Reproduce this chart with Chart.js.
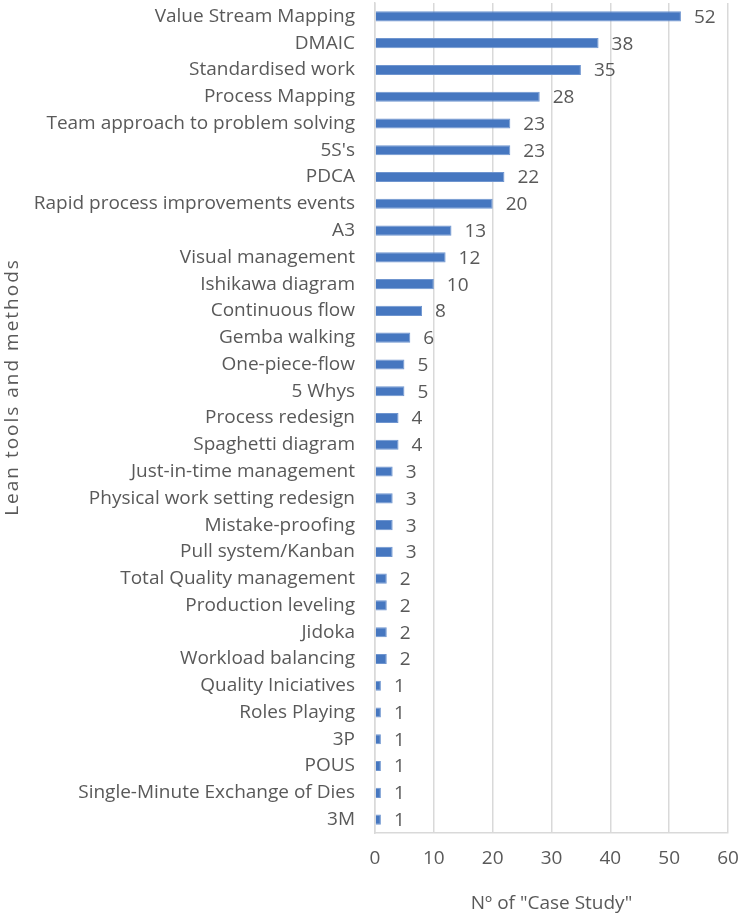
<!DOCTYPE html>
<html>
<head>
<meta charset="utf-8">
<script src="https://cdn.jsdelivr.net/npm/chart.js@4/dist/chart.umd.min.js"></script>
<style>
  html, body { margin: 0; padding: 0; background: #fff; }
  #wrap { width: 741px; height: 915px; }
</style>
</head>
<body>
<div id="wrap"><canvas id="leanChart" width="741" height="915"></canvas></div>
<script>
// Ferramentas lean e número de estudos de caso
const tools = [
  'Value Stream Mapping', 'DMAIC', 'Standardised work', 'Process Mapping',
  'Team approach to problem solving', "5S's", 'PDCA', 'Rapid process improvements events',
  'A3', 'Visual management', 'Ishikawa diagram', 'Continuous flow', 'Gemba walking',
  'One-piece-flow', '5 Whys', 'Process redesign', 'Spaghetti diagram',
  'Just-in-time management', 'Physical work setting redesign', 'Mistake-proofing',
  'Pull system/Kanban', 'Total Quality management', 'Production leveling', 'Jidoka',
  'Workload balancing', 'Quality Iniciatives', 'Roles Playing', '3P', 'POUS',
  'Single-Minute Exchange of Dies', '3M'
];
const caseStudies = [52, 38, 35, 28, 23, 23, 22, 20, 13, 12, 10, 8, 6, 5, 5, 4, 4,
  3, 3, 3, 3, 2, 2, 2, 2, 1, 1, 1, 1, 1, 1];
const xTicks = [0, 10, 20, 30, 40, 50, 60];
const yTitle = 'Lean tools and methods';
const xTitle = 'Nº of "Case Study"';

const textColor = '#595959';
const gridColor = '#d9d9d9';
const fontFamily = '"Open Sans", Lato, sans-serif';
const fontSize = 19;

// Rótulos de valor no fim de cada barra + título vertical do eixo y
const valueLabels = {
  id: 'valueLabels',
  afterDatasetsDraw(chart) {
    const ctx = chart.ctx;
    const meta = chart.getDatasetMeta(0);
    ctx.save();
    ctx.fillStyle = textColor;
    ctx.font = fontSize + 'px ' + fontFamily;
    ctx.textAlign = 'left';
    ctx.textBaseline = 'middle';
    meta.data.forEach((bar, i) => {
      ctx.fillText(String(caseStudies[i]), bar.x + 13, bar.y + 1);
    });

    // título do eixo y, um pouco acima do centro
    ctx.translate(13, 387);
    ctx.rotate(-Math.PI / 2);
    ctx.textAlign = 'center';
    ctx.letterSpacing = '2px';
    ctx.fillText(yTitle, 0, 0);
    ctx.restore();
  }
};

new Chart(document.getElementById('leanChart'), {
  type: 'bar',
  data: {
    labels: tools,
    datasets: [{
      data: caseStudies,
      backgroundColor: '#4677c0',
      borderColor: '#6f95cf',
      borderWidth: 1,
      categoryPercentage: 0.9,
      barPercentage: 0.42
    }]
  },
  options: {
    indexAxis: 'y',
    responsive: false,
    animation: false,
    layout: { padding: { top: 3, right: 13, left: 0, bottom: 0 } },
    plugins: {
      legend: { display: false },
      tooltip: { enabled: false }
    },
    scales: {
      x: {
        min: 0,
        max: 60,
        afterBuildTicks(scale) {
          scale.ticks = xTicks.map(v => ({ value: v }));
        },
        grid: { color: gridColor, lineWidth: 1.5, drawTicks: false },
        border: { display: true, color: gridColor, width: 1.5 },
        ticks: { color: textColor, font: { size: fontSize, family: fontFamily }, padding: 14 },
        title: {
          display: true,
          text: xTitle,
          color: textColor,
          font: { size: fontSize, family: fontFamily },
          padding: { top: 12, bottom: 0 }
        },
        afterFit(scale) {
          scale.height = 82;
          scale.paddingLeft = 0;
          scale.paddingRight = 0;
        }
      },
      y: {
        grid: { display: false, drawTicks: false },
        border: { display: true, color: gridColor, width: 1.5 },
        ticks: {
          color: textColor,
          font: { size: fontSize, family: fontFamily },
          padding: 20,
          autoSkip: false
        },
        afterFit(scale) {
          scale.width = 375;
          scale.paddingTop = 0;
          scale.paddingBottom = 0;
        }
      }
    }
  },
  plugins: [valueLabels]
});
</script>
</body>
</html>
